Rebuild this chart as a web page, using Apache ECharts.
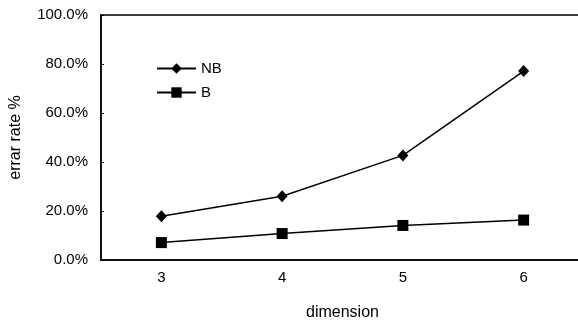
<!DOCTYPE html>
<html>
<head>
<meta charset="utf-8">
<script src="https://cdn.jsdelivr.net/npm/echarts@6/dist/echarts.min.js"></script>
<style>
  html, body { margin: 0; padding: 0; background: #fff; }
  #chart { width: 578px; height: 325px; }
</style>
</head>
<body>
<div id="chart"></div>
<script>
var dimensions = ['3', '4', '5', '6'];
var nbValues = [17.9, 26.0, 42.7, 77.1];
var bValues = [7.1, 10.8, 14.1, 16.3];

var myChart = echarts.init(document.getElementById('chart'));
var font = 'Liberation Sans, Arial, sans-serif';

var option = {
  animation: false,
  backgroundColor: '#fff',
  grid: {
    left: 101, top: 15, width: 483, bottom: 65,
    outerBoundsMode: 'none',
    containLabel: false,
    show: true, borderColor: '#000', borderWidth: 1.5
  },
  legend: {
    orient: 'vertical',
    left: 151, top: 56,
    itemWidth: 39, itemHeight: 13, itemGap: 9,
    textStyle: { fontFamily: font, fontSize: 15, color: '#000' },
    data: ['NB', 'B']
  },
  xAxis: {
    type: 'category',
    data: dimensions,
    name: 'dimension',
    nameLocation: 'middle',
    nameGap: 45,
    nameTextStyle: { fontFamily: font, fontSize: 16, color: '#000' },
    axisLine: { lineStyle: { color: '#000', width: 1.5 } },
    axisTick: { inside: true, length: 3, lineStyle: { color: '#000' } },
    axisLabel: { fontFamily: font, fontSize: 15, color: '#000', margin: 10 },
    splitLine: { show: false }
  },
  yAxis: {
    type: 'value',
    min: 0, max: 100, interval: 20,
    name: 'errar rate %',
    nameLocation: 'middle',
    nameGap: 77,
    nameTextStyle: { fontFamily: font, fontSize: 16, color: '#000' },
    axisLine: { show: true, lineStyle: { color: '#000', width: 1.5 } },
    axisTick: { show: true, inside: true, length: 3, lineStyle: { color: '#000' } },
    axisLabel: {
      fontFamily: font, fontSize: 15, color: '#000', margin: 13,
      formatter: function (v) { return v.toFixed(1) + '%'; }
    },
    splitLine: { show: false }
  },
  series: [
    {
      name: 'NB',
      type: 'line',
      data: nbValues,
      symbol: 'diamond',
      symbolSize: [11, 12],
      itemStyle: { color: '#000' },
      lineStyle: { color: '#000', width: 1.5 }
    },
    {
      name: 'B',
      type: 'line',
      data: bValues,
      symbol: 'rect',
      symbolSize: 11,
      itemStyle: { color: '#000' },
      lineStyle: { color: '#000', width: 1.5 }
    }
  ]
};
myChart.setOption(option);
</script>
</body>
</html>
